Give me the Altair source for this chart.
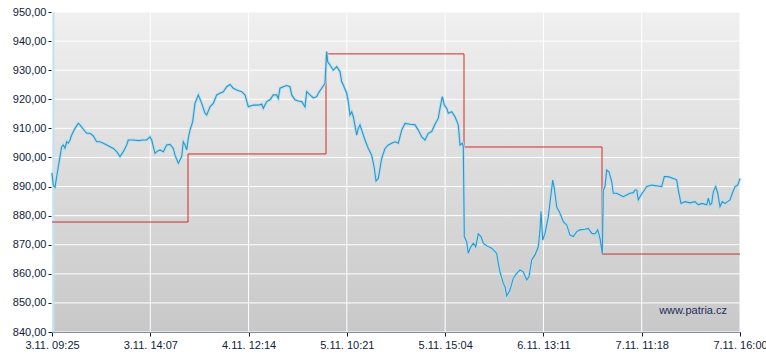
import altair as alt
import pandas as pd

# trading-time index (0 = 3.11. 09:25, 688 = 7.11. 16:00) and price
t = [0, 1.3, 3, 4.7, 6.3, 8, 9.7, 11.3, 13, 14.7, 16.3, 18, 19.7, 23, 26.3, 28, 31.3, 34.7, 38, 41.3,
     44.7, 48, 51.3, 54.7, 58, 61.3, 64.7, 68, 71.3, 74.7, 76.3, 81.3, 86.3, 91.3, 94.7, 98, 99.7, 101.3,
     103, 104.7, 108, 111.3, 114.7, 118, 121.3, 123, 126.3, 129.7, 131.3, 133, 134.7, 136.3, 138, 140.7,
     143, 146.3, 149.7, 153, 154.7, 158, 161.3, 164.7, 168, 171.3, 174.7, 178, 181.3, 184.7, 189.7, 193,
     196.3, 201.3, 206.3, 209.7, 211.3, 214.7, 218, 221.3, 224.7, 226.3, 228, 231.3, 234.7, 238, 239.7,
     243, 246.3, 249.7, 253, 254.7, 258, 261.3, 264.7, 266.3, 269.7, 273, 274.7, 275.7, 278, 281.3, 284.7,
     288, 289.7, 291.3, 294.7, 296.3, 298, 299.7, 301.3, 304.7, 306.3, 308, 309.7, 313, 316.3, 319.7,
     322.3, 324, 326.3, 329.7, 333, 336.3, 339.7, 343, 346.3, 349.7, 353, 358, 363, 366.3, 369.7, 373,
     376.3, 379.7, 383, 386.3, 388, 390.3, 392.3, 394.7, 396.3, 399.7, 403, 406.3, 408, 410.3, 411.3,
     412.3, 414.7, 416.3, 418, 421.3, 423.7, 426.3, 429, 431.3, 434.7, 439.7, 444.7, 446.3, 448, 451.3,
     453, 454.7, 458, 461.3, 464.7, 468, 471.3, 474.7, 477, 479.7, 483, 486.3, 488, 489, 490.7, 493,
     496.3, 498.7, 500.7, 502.3, 504.7, 508, 511.3, 514.7, 518, 521.3, 524.7, 528, 533, 536.3, 539.7,
     543, 545.7, 548, 550.3, 551.3, 553, 554.7, 557, 559.7, 561.3, 564.7, 568, 571.3, 574.7, 578, 581.3,
     583, 584.7, 586.3, 589, 591.3, 594.7, 599.7, 606.3, 609.7, 612.3, 616.3, 621.3, 624.7, 626.3, 629,
     633, 638, 643, 646.3, 649.7, 654.7, 656.3, 658, 659.7, 661.3, 663.7, 665.7, 668, 670.3, 673, 675.7,
     678, 680.3, 683, 685.7, 688]
price = [894.7, 890.5, 889.7, 893.4, 896.8, 900.3, 903.7, 904.3, 903.2, 905.4, 904.9, 906.0, 907.7, 910.0,
         911.7, 911.2, 909.7, 908.3, 908.3, 907.4, 905.4, 905.4, 904.9, 904.3, 903.7, 903.1, 902.0, 900.3,
         902.0, 904.3, 906.0, 906.0, 905.8, 906.0, 906.0, 907.1, 906.0, 903.7, 901.4, 902.0, 902.6, 902.0,
         904.3, 904.5, 903.1, 900.8, 898.0, 900.3, 905.4, 904.3, 902.6, 906.6, 909.4, 912.3, 918.6, 921.5,
         918.6, 915.2, 914.6, 917.4, 918.6, 921.5, 922.1, 922.6, 924.3, 925.1, 923.8, 923.2, 922.6, 921.5,
         917.4, 918.0, 918.0, 918.3, 916.9, 919.2, 919.8, 921.5, 921.5, 920.3, 923.8, 924.3, 924.7, 924.3,
         921.5, 919.8, 919.4, 919.2, 917.4, 922.6, 921.5, 920.5, 920.9, 922.1, 923.8, 925.5, 936.4, 932.9,
         931.8, 930.0, 931.2, 929.5, 926.0, 924.9, 922.1, 919.2, 914.6, 915.7, 914.0, 907.7, 910.0, 911.2,
         909.4, 906.0, 903.1, 900.8, 896.3, 891.9, 892.8, 899.7, 903.1, 904.3, 904.9, 905.4, 904.9, 909.4,
         911.7, 911.4, 911.2, 909.4, 907.1, 906.0, 908.3, 908.9, 911.4, 913.5, 916.9, 920.9, 918.0, 916.9,
         915.2, 915.7, 914.0, 911.2, 904.3, 904.9, 903.7, 872.8, 871.0, 867.0, 868.8, 870.5, 869.3, 873.7,
         872.8, 870.5, 869.6, 868.8, 867.0, 863.6, 860.7, 856.7, 855.6, 852.4, 854.4, 858.5, 860.2, 861.3,
         860.7, 857.9, 859.0, 864.8, 866.5, 869.3, 875.1, 881.4, 871.6, 873.9, 879.6, 886.5, 892.2, 889.4,
         883.0, 880.8, 877.9, 876.8, 873.3, 872.8, 874.5, 875.1, 875.3, 875.6, 873.9, 873.7, 875.1, 872.2,
         867.0, 888.8, 890.0, 895.7, 895.1, 891.7, 887.7, 887.7, 887.1, 886.5, 887.1, 887.7, 887.9, 888.8,
         888.8, 885.4, 887.1, 888.2, 890.0, 890.5, 890.2, 890.0, 893.4, 893.4, 892.8, 892.3, 888.8, 884.2,
         884.8, 884.4, 884.8, 883.7, 884.2, 883.7, 886.0, 883.7, 884.2, 888.2, 890.0, 887.7, 883.1, 884.8,
         884.2, 884.8, 885.4, 887.7, 890.0, 890.5, 892.8]

# daily reference level (red step line)
step_t = [0, 136, 274, 412, 550, 688]
step_v = [877.8, 901.2, 935.6, 903.6, 866.8, 866.8]

y_ticks = [840, 850, 860, 870, 880, 890, 900, 910, 920, 930, 940, 950]
x_labels = ["3.11. 09:25", "3.11. 14:07", "4.11. 12:14", "5.11. 10:21",
            "5.11. 15:04", "6.11. 13:11", "7.11. 11:18", "7.11. 16:00"]
T_END = 688
x_ticks = [T_END * k / (len(x_labels) - 1) for k in range(len(x_labels))]

FONT = "Liberation Sans"
NAVY = "#0f1c3a"

xs = alt.Scale(domain=[0, T_END], nice=False, zero=False)
ys = alt.Scale(domain=[840, 950], nice=False, zero=False)

label_arr = "[" + ",".join("'%s'" % s for s in x_labels) + "]"

x_axis = alt.Axis(values=x_ticks, grid=False, domainColor=NAVY, tickColor=NAVY, tickSize=4,
                  labelFont=FONT, labelFontSize=11, labelColor=NAVY, labelFlush=False,
                  labelOverlap=False, labelBound=False, labelPadding=3, tickCount=len(x_ticks),
                  labelExpr=label_arr + "[round(datum.value*%d/%d)]" % (len(x_labels) - 1, T_END))
y_axis = alt.Axis(values=y_ticks, grid=False, domainColor=NAVY, tickColor=NAVY, tickSize=4,
                  labelFont=FONT, labelFontSize=11, labelColor=NAVY, labelPadding=2,
                  labelOverlap=False, labelBound=False, tickCount=len(y_ticks),
                  labelExpr="replace(format(datum.value, '.2f'), '.', ',')")


def X(field):
    return alt.X(field, scale=xs, axis=x_axis, title=None)


def Y(field):
    return alt.Y(field, scale=ys, axis=y_axis, title=None)


bg_df = pd.DataFrame({"bx": [0], "bx2": [T_END], "by": [840], "by2": [950]})
bg = alt.Chart(bg_df).mark_rect(
    color=alt.Gradient(gradient="linear", x1=0, x2=0, y1=0, y2=1,
                       stops=[alt.GradientStop(offset=0, color="#f0f0f0"),
                              alt.GradientStop(offset=1, color="#c8c8c8")])
).encode(x=X("bx:Q"), x2="bx2:Q", y=Y("by:Q"), y2="by2:Q")

hgrid = alt.Chart(pd.DataFrame({"gy": y_ticks})).mark_rule(color="white", strokeWidth=1).encode(
    y=Y("gy:Q"))
vgrid = alt.Chart(pd.DataFrame({"gx": x_ticks})).mark_rule(color="white", strokeWidth=1).encode(
    x=X("gx:Q"))

edge = alt.Chart(pd.DataFrame({"e": [0]})).mark_rule(color="#c3e1f5", strokeWidth=2).encode(
    x=alt.value(1.5))

df = pd.DataFrame({"t": t, "p": price})
step_df = pd.DataFrame({"t": step_t, "p": step_v})

red = alt.Chart(step_df).mark_line(color="#d22a2a", strokeWidth=1, interpolate="step-after").encode(
    x=X("t:Q"), y=Y("p:Q"))
halo = alt.Chart(df).mark_line(color="#aedff4", strokeWidth=3, opacity=0.9).encode(
    x=X("t:Q"), y=Y("p:Q"))
blue = alt.Chart(df).mark_line(color="#3794bd", strokeWidth=1.1).encode(
    x=X("t:Q"), y=Y("p:Q"))

wm = alt.Chart(pd.DataFrame({"s": ["www.patria.cz"]})).mark_text(
    align="right", baseline="middle", font=FONT, fontSize=11, color="#1f2d5a"
).encode(text="s:N", x=alt.value(675), y=alt.value(299))

chart = alt.layer(bg, hgrid, vgrid, edge, red, halo, blue, wm).properties(
    width=688, height=320,
    padding={"left": 52, "top": 12, "right": 26, "bottom": 22},
    autosize=alt.AutoSizeParams(type="none"),
    background="white",
).configure_view(stroke=None)

chart.save("out.html", embed_options={"renderer": "svg", "actions": False})
